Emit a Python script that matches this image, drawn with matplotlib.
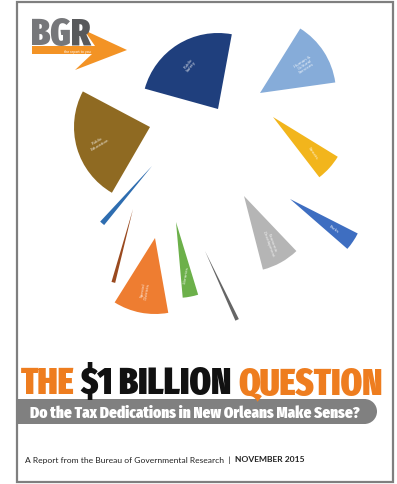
import numpy as np
import matplotlib
matplotlib.use("Agg")
import matplotlib.pyplot as plt
from matplotlib import font_manager as fm
from matplotlib.patches import Wedge, Rectangle, Circle, Polygon

# slices of the $1 billion pie ($ millions)
names = ["Public\nSafety", "Public\nEducation", "Human &\nCultural\nServices", "Streets",
         "Parks", "Economic\nDevelopment", "Museums", "Libraries", "Special\nDistricts",
         "Zoo", "Drainage"]
values = [236, 244, 139, 58, 39, 81, 8, 33, 117, 8, 11]
total = 1000
colors = ["#1f3f7d", "#8f6a22", "#86acd9", "#f2b51c", "#3e6ec1", "#b5b5b5",
          "#666666", "#6cb04a", "#ee7d31", "#9a4a1f", "#2e6db0"]

# scattered layout: apex of each slice (px) and direction of its bisector (deg)
apex_x = [218, 150, 260, 273, 290, 244, 205, 176, 155, 133, 152]
apex_y = [110, 128, 94, 118, 200, 197, 252, 223, 239, 210, 167]
mid_deg = [122, 196, 33, -42, -34, -61, -65, -79, -101, -105, -131]
label_rot = [52, 30, 33, -55, -35, -70, 0, 80, 80, 0, 0]
R = 76


# look for the narrowest, heaviest face for the title (Impact-like)
def weight_num(w):
    if isinstance(w, (int, float)):
        return w
    return {"bold": 700, "heavy": 800, "black": 900, "extra bold": 800,
            "semibold": 600, "demibold": 600}.get(str(w).lower(), 400)


def narrow_rank(f):
    n = (f.fname + " " + f.name).lower().replace("-", "").replace(" ", "")
    if "ultracondensed" in n or "extracondensed" in n:
        return 0
    if "semicondensed" in n:
        return 3
    if "condensed" in n or "narrow" in n or f.stretch == "condensed":
        return 2
    return 9


cands = []
for f in fm.fontManager.ttflist:
    rk = narrow_rank(f)
    if rk < 9 and weight_num(f.weight) >= 700 and f.style == "normal":
        cands.append((rk, -weight_num(f.weight), f.fname))
cands.sort()
if cands:
    cond = fm.FontProperties(fname=cands[0][2])
else:
    cond = fm.FontProperties(family="Roboto", weight="bold")

W, H = 397, 485
fig = plt.figure(figsize=(W / 100, H / 100), dpi=100)
ax = fig.add_axes([0, 0, 1, 1])
ax.set_xlim(0, W)
ax.set_ylim(H, 0)
ax.axis("off")
fig.canvas.draw()
r = fig.canvas.get_renderer()


def fit(t, width):
    bb = t.get_window_extent(renderer=r)
    t.set_fontsize(t.get_fontsize() * width / bb.width)
    return t


# frame
ax.add_patch(Rectangle((16.5, 3), 376.5, 480, fill=False, ec="#7f7f7f", lw=1.6))

# pie slices (y axis is inverted, so angles are negated)
for i in range(len(values)):
    span = values[i] / total * 360
    a1 = mid_deg[i] - span / 2
    a2 = mid_deg[i] + span / 2
    ax.add_patch(Wedge((apex_x[i], apex_y[i]), R, -a2, -a1, fc=colors[i], ec="none"))
    if span > 10:
        t = np.radians(mid_deg[i])
        lx = apex_x[i] + 0.7 * R * np.cos(t)
        ly = apex_y[i] - 0.7 * R * np.sin(t)
        ax.text(lx, ly, names[i], color="white", fontsize=3, ha="center", va="center",
                rotation=label_rot[i], linespacing=1.1, alpha=0.85)

# BGR logo
ax.add_patch(Polygon([(32, 47), (95, 47), (84, 31), (127, 51), (75, 71), (92, 55), (32, 55)],
                     closed=True, fc="#f39325", ec="none"))
tb = ax.text(31, 45.5, "BG", fontproperties=cond, color="#76777a", ha="left", va="baseline")
tb.set_fontsize(26)
fit(tb, 40)
bb = tb.get_window_extent(renderer=r)
tr = ax.text(31 + bb.width, 45.5, "R", fontproperties=cond, color="#58595b",
             ha="left", va="baseline")
tr.set_fontsize(tb.get_fontsize())
ax.text(77, 52, "the report to you", fontsize=2.3, color="white", ha="center", va="center")

# title, three colours side by side with tight word gaps, fitted to the page width
words = ["THE", "$1 BILLION", "QUESTION"]
word_cols = ["#ee7d1f", "#111111", "#ee7d1f"]
gap = 6
ts_ = [ax.text(0, 394, w, fontproperties=cond, color=c, ha="left", va="baseline")
       for w, c in zip(words, word_cols)]
for t in ts_:
    t.set_fontsize(36)
widths = [t.get_window_extent(renderer=r).width for t in ts_]
scale = (361 - gap * (len(words) - 1)) / sum(widths)
x = 21
for t, w in zip(ts_, widths):
    t.set_fontsize(36 * scale)
    t.set_x(x)
    x += w * scale + gap

# subtitle pill
ax.add_patch(Rectangle((17.5, 400), 347, 25, fc="#808080", ec="none"))
ax.add_patch(Circle((364.5, 412.5), 12.5, fc="#808080", ec="none"))
ts = ax.text(30, 413.5, "Do the Tax Dedications in New Orleans Make Sense?",
             fontproperties=cond, color="white", ha="left", va="center")
ts.set_fontsize(13)
fit(ts, 328)

# footer
t1 = ax.text(25, 460, "A Report from the Bureau of Governmental Research  |  ", fontsize=6.1,
             color="#222222", family="Lato", ha="left", va="center")
bb = t1.get_window_extent(renderer=r)
ax.text(25 + bb.width, 460, "NOVEMBER 2015", fontsize=6.1, fontweight="bold",
        color="#222222", family="Lato", ha="left", va="center")

fig.savefig("out.png", dpi=100)
